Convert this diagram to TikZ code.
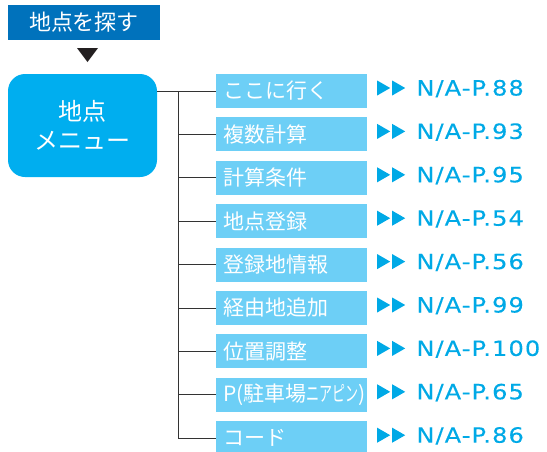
\documentclass[tikz,border=0pt]{standalone}
\usepackage{fontspec}
\usepackage{graphicx}
\setmainfont{Noto Sans CJK JP}
\newfontfamily\pagefont[FakeStretch=1.15, LetterSpace=5, FakeBold=0.2]{DejaVu Sans}
\usetikzlibrary{positioning}
\definecolor{finddark}{HTML}{0072BC}
\definecolor{menucyan}{HTML}{00AEEF}
\definecolor{itemcyan}{HTML}{6DCFF6}
\definecolor{pagecyan}{HTML}{00A9E6}
\definecolor{linkgray}{HTML}{333333}
\definecolor{markdark}{HTML}{231F20}

\tikzset{
  findbox/.style={fill=finddark, text=white, minimum width=152pt, minimum height=35pt,
    inner sep=0pt, font=\fontsize{22pt}{26pt}\selectfont},
  menubox/.style={fill=menucyan, text=white, rounded corners=17pt, minimum width=149pt,
    minimum height=103pt, align=center, inner sep=0pt, font=\fontsize{24pt}{29pt}\selectfont},
  itembox/.style={fill=itemcyan, text=white, minimum height=34pt, text width=137pt,
    inner xsep=7pt, inner ysep=0pt, align=left, font=\fontsize{21pt}{25pt}\selectfont},
  pageref/.style={text=pagecyan, inner sep=0pt, text height=15pt, text depth=0pt,
    anchor=west, yshift=3pt, font=\pagefont\fontsize{21pt}{25pt}\selectfont},
  link/.style={draw=linkgray, line width=1pt},
}
% two small pointers in front of a page reference
\newcommand{\pagemark}[1]{%
  \fill[pagecyan, shift={(#1.west)}] (-39pt,7.5pt) -- (-26pt,0pt) -- (-39pt,-7.5pt) -- cycle
    (-24pt,7.5pt) -- (-11pt,0pt) -- (-24pt,-7.5pt) -- cycle;}

\begin{document}
\begin{tikzpicture}
  \useasboundingbox (0pt,0pt) rectangle (547pt,-451pt);

  \node[findbox] (find) at (84pt,-22.5pt) {地点を探す};
  \fill[markdark] (77pt,-48pt) -- (98pt,-48pt) -- (87.5pt,-62pt) -- cycle;
  \node[menubox] (menu) at (82.5pt,-125.5pt) {地点\\メニュー};

  \node[itembox] (i1) at (291.5pt,-91pt) {ここに行く};
  \node[itembox, below=9pt of i1] (i2) {複数計算};
  \node[itembox, below=9pt of i2] (i3) {計算条件};
  \node[itembox, below=9pt of i3] (i4) {地点登録};
  \node[itembox, below=9pt of i4] (i5) {登録地情報};
  \node[itembox, below=9pt of i5] (i6) {経由地追加};
  \node[itembox, below=9pt of i6] (i7) {位置調整};
  \node[itembox, below=9pt of i7] (i8) {P(駐車場\scalebox{0.62}[1]{ニアピン})};
  \node[itembox, below=9pt of i8] (i9) {コード};

  \node[pageref, right=49pt of i1] (p1) {N/A-P.88};
  \node[pageref, right=49pt of i2] (p2) {N/A-P.93};
  \node[pageref, right=49pt of i3] (p3) {N/A-P.95};
  \node[pageref, right=49pt of i4] (p4) {N/A-P.54};
  \node[pageref, right=49pt of i5] (p5) {N/A-P.56};
  \node[pageref, right=49pt of i6] (p6) {N/A-P.99};
  \node[pageref, right=49pt of i7] (p7) {N/A-P.100};
  \node[pageref, right=49pt of i8] (p8) {N/A-P.65};
  \node[pageref, right=49pt of i9] (p9) {N/A-P.86};
  \pagemark{p1} \pagemark{p2} \pagemark{p3}
  \pagemark{p4} \pagemark{p5} \pagemark{p6}
  \pagemark{p7} \pagemark{p8} \pagemark{p9}

  \coordinate (trunk) at (178pt,-91pt);
  \draw[link] (menu.east |- i1) -- (i1.west);
  \draw[link] (trunk) |- (i9.west);
  \draw[link] (trunk |- i2) -- (i2.west);
  \draw[link] (trunk |- i3) -- (i3.west);
  \draw[link] (trunk |- i4) -- (i4.west);
  \draw[link] (trunk |- i5) -- (i5.west);
  \draw[link] (trunk |- i6) -- (i6.west);
  \draw[link] (trunk |- i7) -- (i7.west);
  \draw[link] (trunk |- i8) -- (i8.west);
\end{tikzpicture}
\end{document}
